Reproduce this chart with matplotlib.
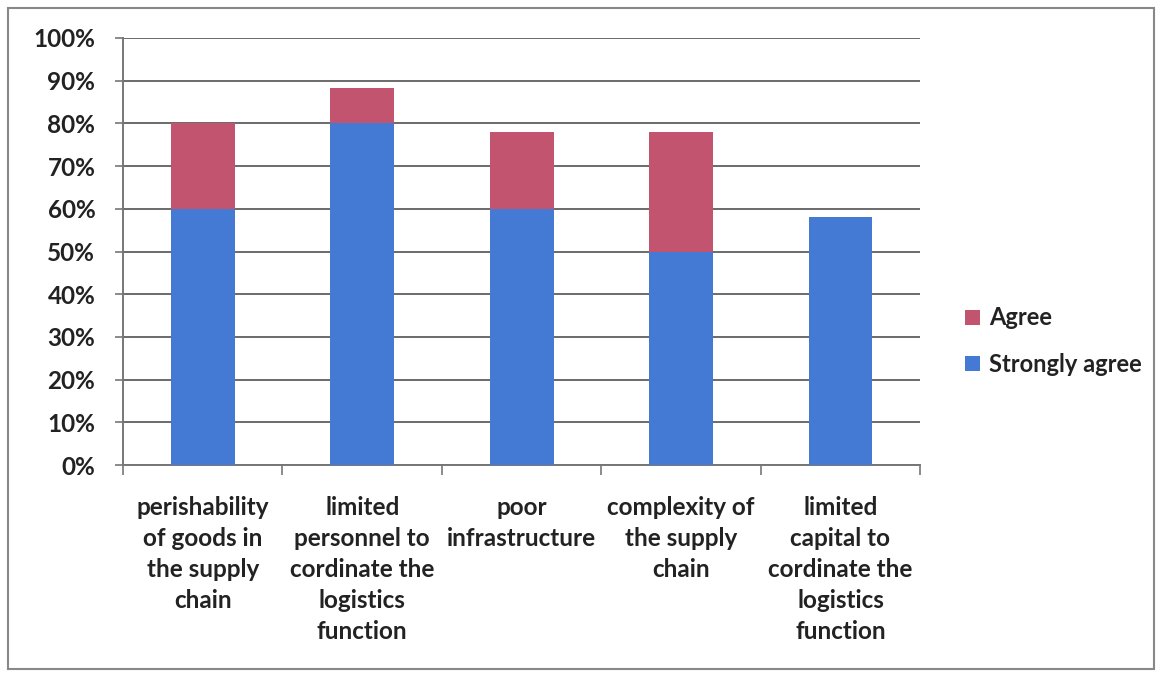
import matplotlib
matplotlib.use('Agg')
import matplotlib.pyplot as plt
from matplotlib.patches import Rectangle
from matplotlib.ticker import PercentFormatter
import numpy as np

categories = ['perishability\nof goods in\nthe supply\nchain',
              'limited\npersonnel to\ncordinate the\nlogistics\nfunction',
              'poor\ninfrastructure',
              'complexity of\nthe supply\nchain',
              'limited\ncapital to\ncordinate the\nlogistics\nfunction']
stronglyAgree = [60, 80, 60, 50, 58]
agree = [20, 8.4, 18, 28, 0]

plt.rcParams['font.family'] = ['Lato', 'DejaVu Sans']
plt.rcParams['font.weight'] = 'bold'

fig = plt.figure(figsize=(11.62, 6.77), dpi=100)
ax = fig.add_axes([0.1059, 0.3131, 0.686, 0.6308])

x = np.arange(len(categories))
blue = '#4479d4'
red = '#c25470'
ax.bar(x, stronglyAgree, width=0.4, color=blue, label='Strongly agree', zorder=3)
ax.bar(x, agree, width=0.4, bottom=stronglyAgree, color=red, label='Agree', zorder=3)

ax.set_xlim(-0.5, len(categories) - 0.5)
ax.set_ylim(0, 100)
ax.set_yticks(np.arange(0, 101, 10))
ax.yaxis.set_major_formatter(PercentFormatter(decimals=0))
ax.grid(True, axis='y', color='#6a6a6a', lw=1.4, zorder=0)

# category labels centred, tick marks on the category boundaries
ax.set_xticks(x)
ax.set_xticklabels(categories, fontsize=17.5, color='#222222', linespacing=1.42)
ax.set_xticks(np.arange(-0.5, len(categories)), minor=True)
ax.tick_params(axis='x', which='major', length=0, pad=22)
ax.tick_params(axis='x', which='minor', length=7, width=1.2, color='#777777', direction='out')
ax.tick_params(axis='y', length=6, width=1.2, color='#777777', labelsize=17.5, labelcolor='#222222', pad=14)

for side in ['top', 'right']:
    ax.spines[side].set_visible(False)
for side in ['left', 'bottom']:
    ax.spines[side].set_color('#777777')
    ax.spines[side].set_linewidth(1.4)

handles, labels = ax.get_legend_handles_labels()
ax.legend(handles[::-1], labels[::-1], loc='center left', bbox_to_anchor=(1.03, 0.29),
          frameon=False, fontsize=17, handlelength=0.6, handleheight=0.6,
          handletextpad=0.4, labelspacing=1.0, labelcolor='#222222')

fig.patches.append(Rectangle((0.007, 0.012), 0.986, 0.976, transform=fig.transFigure,
                             fill=False, edgecolor='#888888', lw=1.5))

fig.savefig('out.png', dpi=100)
